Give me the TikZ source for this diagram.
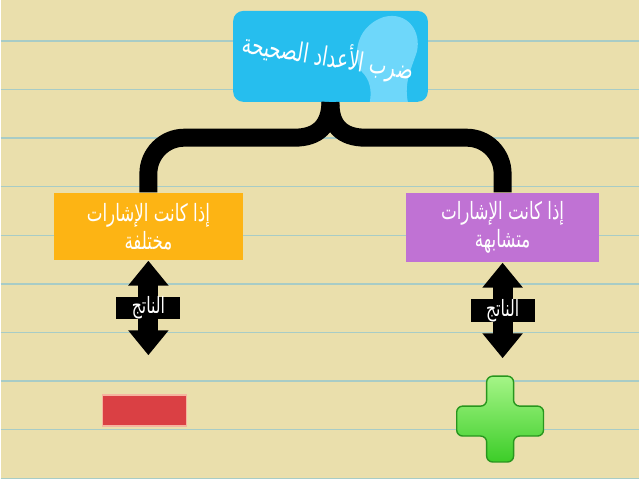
\documentclass[tikz,border=0pt]{standalone}
\usepackage{fontspec}
\newfontfamily\arabicfont[Script=Arabic, FakeStretch=0.7]{DejaVu Sans}
\TeXXeTstate=1
\usetikzlibrary{arrows.meta}
\definecolor{paper}{RGB}{234,223,172}
\definecolor{rule}{RGB}{168,204,198}
\definecolor{sky}{RGB}{38,190,238}
\definecolor{head}{RGB}{110,215,250}
\definecolor{amber}{RGB}{253,180,20}
\definecolor{lilac}{RGB}{192,114,212}
\definecolor{minus}{RGB}{218,64,68}
\definecolor{glow}{RGB}{246,180,160}
\definecolor{plustop}{RGB}{165,245,135}
\definecolor{plusbot}{RGB}{60,205,40}
\definecolor{plusrim}{RGB}{40,150,30}
\begin{document}
\begin{tikzpicture}[x=0.025cm, y=-0.025cm,
    box/.style={inner sep=0pt, align=center, text=white, font=\arabicfont\fontsize{17}{20}\selectfont},
    brace/.style={line width=0.45cm, black},
    dbl/.style={line width=0.5cm, {Triangle[width=0.975cm,length=0.625cm]}-{Triangle[width=0.975cm,length=0.625cm]}},
    res/.style={fill=black, text=white, minimum width=1.6cm, minimum height=0.57cm, inner sep=0pt, font=\arabicfont\fontsize{16}{16}\selectfont}]
    % paper
    \fill[paper] (0,0) rectangle (640,480);
    \foreach \k in {0,...,9}
        \draw[rule, line width=1pt] (0,{41+48.7*\k}) -- (640,{41+48.7*\k});

    % title box
    \node[box, fill=sky, rounded corners=0.25cm, minimum width=4.875cm, minimum height=2.275cm] (top) at (330.5,56.5) {};
    \begin{scope}
        \clip[rounded corners=0.25cm] (top.south west) rectangle (top.north east);
        \fill[head] (370,102) .. controls (372,90) and (370,80) .. (362,72)
            .. controls (354,62) and (352,28) .. (384,17) .. controls (408,11) and (422,32) .. (417,52)
            .. controls (412,68) and (404,82) .. (408,102) -- cycle;
    \end{scope}
    \node[inner sep=0pt, text=white, font=\arabicfont\fontsize{19}{19}\selectfont, rotate=-9] (ttl) at (328,57) {\beginR ضرب الأعداد الصحيحة\endR};

    \node[box, fill=amber, minimum width=4.75cm, minimum height=1.7cm] (lbox) at (148,227) {\beginR إذا كانت الإشارات\endR\\ \beginR مختلفة\endR};
    \node[box, fill=lilac, minimum width=4.85cm, minimum height=1.75cm] (rbox) at (503,228) {\beginR إذا كانت الإشارات\endR\\ \beginR متشابهة\endR};

    % brace
    \draw[brace] (top.south) .. controls (330,126) and (318,138) .. (294,138)
        [rounded corners=0.9cm] -- (lbox.north |- 0,138) -- (lbox.north);
    \draw[brace] (top.south) .. controls (330,126) and (342,138) .. (366,138)
        [rounded corners=0.9cm] -- (rbox.north |- 0,138) -- (rbox.north);

    % results
    \coordinate (lend) at (148,356);
    \coordinate (rend) at (503,359);
    \draw[dbl] (lbox.south) -- (lend) node[midway, res] (lres) {\beginR الناتج\endR};
    \draw[dbl] (rbox.south) -- (rend) node[midway, res] (rres) {\beginR الناتج\endR};

    \node[fill=minus, draw=glow, line width=1pt, minimum width=2.1cm, minimum height=0.775cm, inner sep=0pt] (neg) at (144,411.5) {};
    \shadedraw[top color=plustop, bottom color=plusbot, draw=plusrim, line width=1pt, rounded corners=0.15cm]
        (487,377) -- (514,377) -- (514,407) -- (544,407) -- (544,437) -- (514,437) -- (514,463)
        -- (487,463) -- (487,437) -- (457,437) -- (457,407) -- (487,407) -- cycle;
\end{tikzpicture}
\end{document}
